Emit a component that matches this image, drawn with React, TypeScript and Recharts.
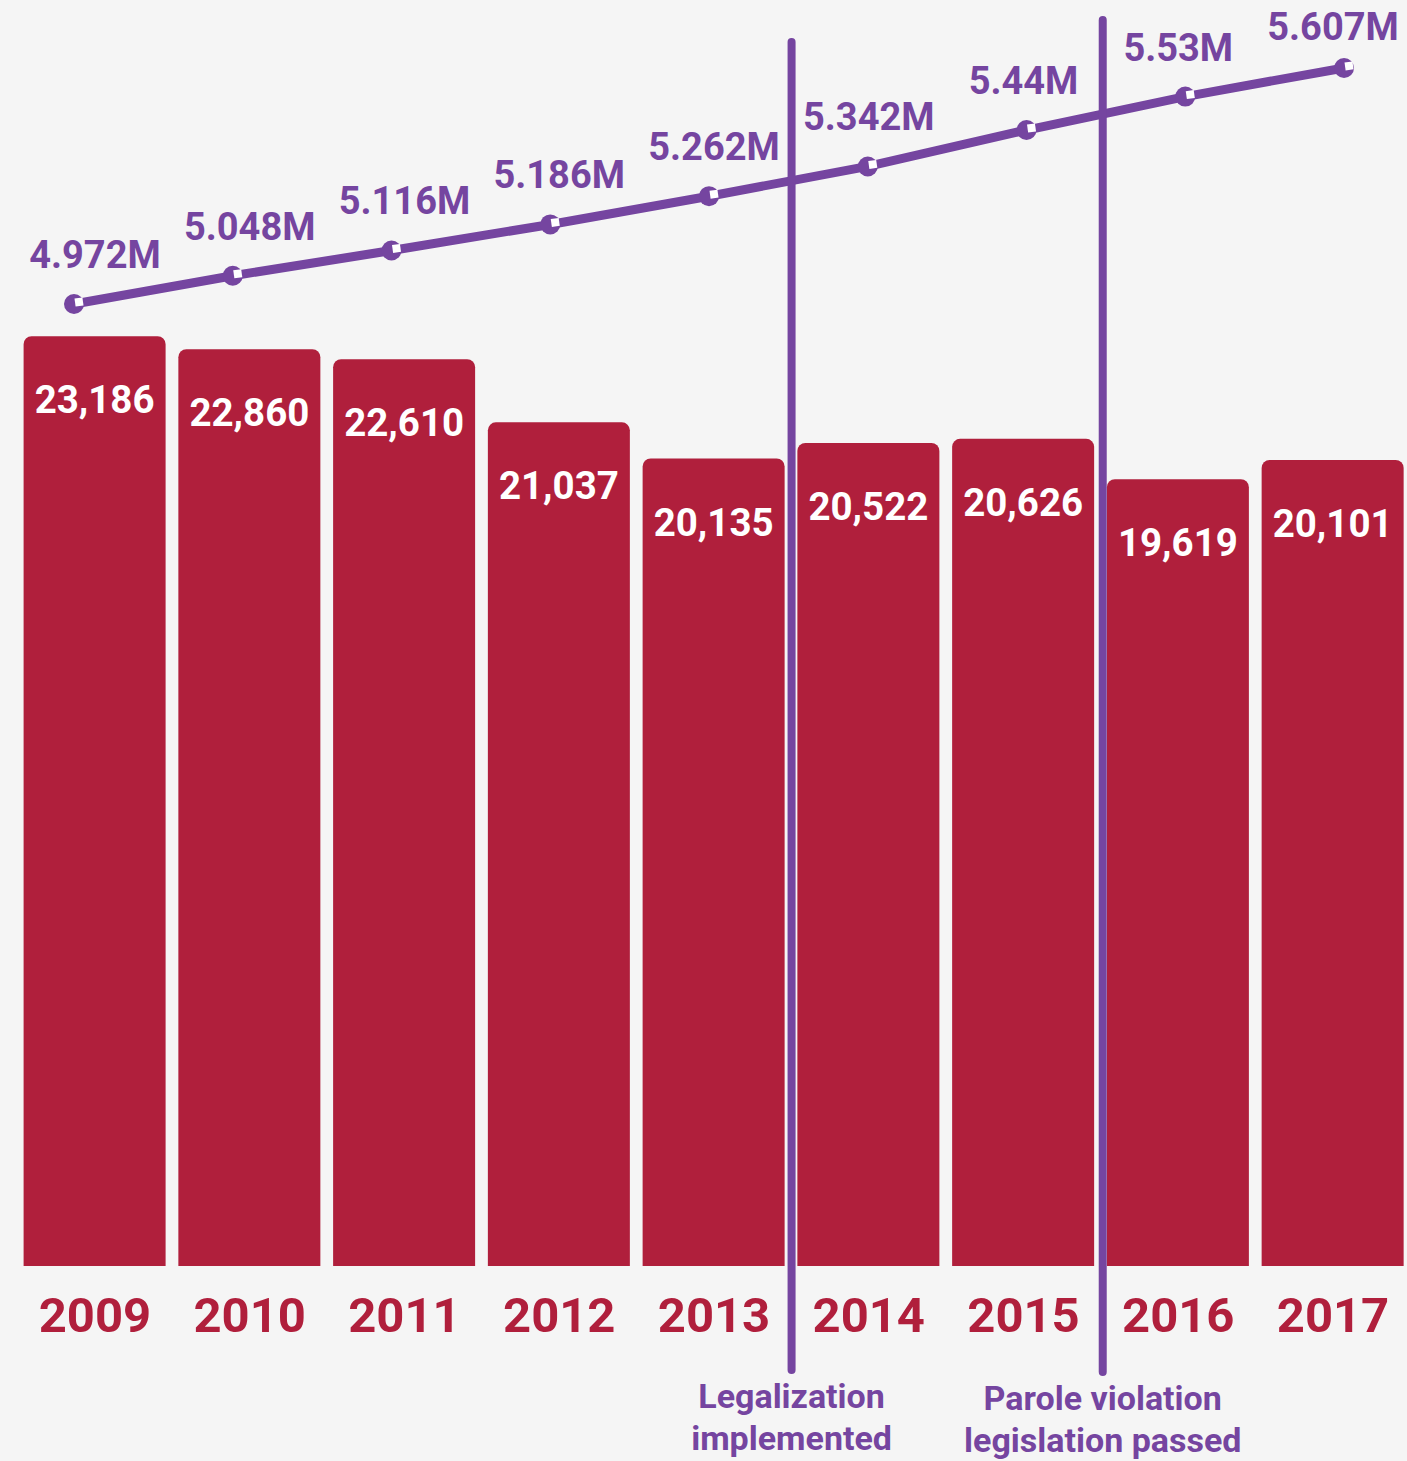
import { ComposedChart, Bar, Line, XAxis, YAxis, LabelList, ReferenceLine } from "recharts";

const years = ["2009", "2010", "2011", "2012", "2013", "2014", "2015", "2016", "2017"];
const arrests = [23186, 22860, 22610, 21037, 20135, 20522, 20626, 19619, 20101];
const population = [4.972, 5.048, 5.116, 5.186, 5.262, 5.342, 5.44, 5.53, 5.607];

// policy events, placed between two years (index on the line axis)
const events = [
  { at: 4.52, lines: ["Legalization", "implemented"], top: 5.677, bottom: 2.104 },
  { at: 6.48, lines: ["Parole violation", "legislation passed"], top: 5.736, bottom: 2.099 },
];

const data = years.map((year, i) => ({
  year,
  idx: i,
  arrests: arrests[i],
  population: population[i],
}));

const RED = "#b01f3c";
const PURPLE = "#7545a0";
const FONT = "Roboto, 'Noto Sans', sans-serif";

const Dot = (props: any) => {
  const { cx, cy, index } = props;
  if (cx == null || cy == null) return null;
  return (
    <g key={`dot-${index}`}>
      <circle cx={cx} cy={cy} r={10} fill={PURPLE} />
      <rect x={cx + 1} y={cy - 6} width={8} height={8} fill="#ffffff" transform={`rotate(-8 ${cx + 5} ${cy - 2})`} />
    </g>
  );
};

const BarValue = (props: any) => {
  const { x, y, width, value } = props;
  return (
    <text x={x + width / 2} y={y + 77} textAnchor="middle" fill="#ffffff" fontSize={38.5} fontWeight={700} fontFamily={FONT}>
      {Number(value).toLocaleString("en-US")}
    </text>
  );
};

const PopValue = (props: any) => {
  const { x, y, value } = props;
  // keep the top label inside the picture
  return (
    <text x={x} y={Math.max(y - 36, 40)} textAnchor="middle" fill={PURPLE} fontSize={38} fontWeight={700} fontFamily={FONT}>
      {`${value}M`}
    </text>
  );
};

const eventLabel = (lines: string[]) => (props: any) => {
  const vb = props.viewBox || {};
  const cx = vb.x + (vb.width || 0) / 2;
  const bottom = vb.y + (vb.height || 0);
  return (
    <text x={cx} y={bottom + 38} textAnchor="middle" fill={PURPLE} fontSize={34} fontWeight={700} fontFamily={FONT}>
      <tspan x={cx}>{lines[0]}</tspan>
      <tspan x={cx} dy={42}>{lines[1]}</tspan>
    </text>
  );
};

export default function App() {
  return (
    <div style={{ position: "absolute", left: 0, top: 0, width: 1407, height: 1461, background: "#f5f5f5", overflow: "hidden" }}>
      <ComposedChart
        width={1411}
        height={1461}
        data={data}
        margin={{ top: 20, right: 0.6, left: 17.6, bottom: 165 }}
      >
        <XAxis
          xAxisId="bar"
          dataKey="year"
          height={30}
          axisLine={false}
          tickLine={false}
          tickSize={0}
          tickMargin={31}
          interval={0}
          tick={{ fill: RED, fontSize: 49, fontWeight: 700, fontFamily: FONT }}
        />
        <XAxis xAxisId="line" dataKey="idx" type="number" domain={[-0.3553, 8.418]} allowDataOverflow hide />
        <YAxis yAxisId="bar" domain={[0, 31070]} allowDataOverflow hide />
        <YAxis yAxisId="line" domain={[2.384, 5.736]} allowDataOverflow hide />
        <Bar xAxisId="bar" yAxisId="bar" dataKey="arrests" fill={RED} barSize={142} radius={[8, 8, 0, 0]} isAnimationActive={false}>
          <LabelList dataKey="arrests" content={BarValue} />
        </Bar>
        <Line
          xAxisId="line"
          yAxisId="line"
          dataKey="population"
          stroke={PURPLE}
          strokeWidth={9}
          dot={Dot}
          activeDot={false}
          isAnimationActive={false}
        />
        {/* invisible copy on the bar axis, so the values sit over the bar centers */}
        <Line
          xAxisId="bar"
          yAxisId="line"
          dataKey="population"
          stroke="none"
          dot={false}
          activeDot={false}
          isAnimationActive={false}
        >
          <LabelList dataKey="population" content={PopValue} />
        </Line>
        {events.map((e) => (
          <ReferenceLine
            key={e.at}
            xAxisId="line"
            yAxisId="line"
            segment={[{ x: e.at, y: e.bottom }, { x: e.at, y: e.top }]}
            ifOverflow="visible"
            stroke={PURPLE}
            strokeWidth={8}
            strokeLinecap="round"
            label={eventLabel(e.lines)}
          />
        ))}
      </ComposedChart>
    </div>
  );
}
